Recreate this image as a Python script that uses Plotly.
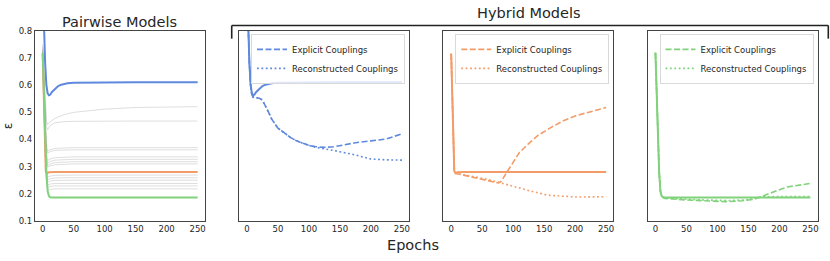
import plotly.graph_objects as go

# ---------------- data ----------------
EPOCH_TICKS = [0, 50, 100, 150, 200, 250]
Y_TICKS = [0.1, 0.2, 0.3, 0.4, 0.5, 0.6, 0.7, 0.8]
Y_TICK_TEXT = ["0.1", "0.2", "0.3", "0.4", "0.5", "0.6", "0.7", "0.8"]

# pairwise models: highlighted curves
BLUE_EPOCHS = [0, 2, 4, 6, 8, 10, 12, 15, 20, 25, 30, 40, 50, 75, 100, 150, 200, 250]
BLUE_PAIR = [0.98, 0.80, 0.68, 0.60, 0.57, 0.563, 0.565, 0.575, 0.588, 0.597, 0.602, 0.607,
             0.609, 0.610, 0.611, 0.611, 0.611, 0.611]

ORANGE_EPOCHS = [0, 1, 2, 3, 4, 5, 7, 10, 20, 250]
ORANGE_PAIR = [0.716, 0.62, 0.50, 0.40, 0.32, 0.283, 0.276, 0.279, 0.280, 0.280]

GREEN_EPOCHS = [0, 2, 4, 6, 8, 10, 12, 15, 250]
GREEN_PAIR = [0.72, 0.55, 0.40, 0.28, 0.21, 0.192, 0.187, 0.186, 0.186]

# pairwise models: other (grey) curves
GREY_EPOCHS = [0, 2, 4, 6, 8, 12, 20, 35, 50, 100, 150, 250]
GREY_1 = [0.75, 0.64, 0.54, 0.47, 0.455, 0.465, 0.478, 0.492, 0.500, 0.512, 0.518, 0.521]
GREY_2 = [0.74, 0.62, 0.52, 0.45, 0.436, 0.452, 0.462, 0.466, 0.467, 0.468, 0.468, 0.468]
GREY_3 = [0.74, 0.60, 0.47, 0.38, 0.357, 0.362, 0.367, 0.369, 0.370, 0.370, 0.370, 0.370]
GREY_4 = [0.73, 0.59, 0.46, 0.37, 0.350, 0.355, 0.360, 0.362, 0.362, 0.362, 0.362, 0.362]
GREY_5 = [0.73, 0.58, 0.44, 0.35, 0.322, 0.328, 0.333, 0.335, 0.336, 0.336, 0.336, 0.336]
GREY_6 = [0.72, 0.57, 0.43, 0.34, 0.312, 0.319, 0.324, 0.326, 0.327, 0.327, 0.327, 0.327]
GREY_7 = [0.72, 0.56, 0.42, 0.33, 0.303, 0.310, 0.315, 0.317, 0.318, 0.318, 0.318, 0.318]
GREY_8 = [0.72, 0.56, 0.41, 0.32, 0.298, 0.303, 0.307, 0.309, 0.310, 0.310, 0.310, 0.310]
GREY_9 = [0.71, 0.54, 0.39, 0.29, 0.262, 0.265, 0.268, 0.269, 0.269, 0.269, 0.269, 0.269]
GREY_10 = [0.71, 0.53, 0.38, 0.28, 0.252, 0.256, 0.258, 0.259, 0.259, 0.259, 0.259, 0.259]
GREY_11 = [0.71, 0.53, 0.37, 0.27, 0.243, 0.247, 0.249, 0.250, 0.250, 0.250, 0.250, 0.250]
GREY_12 = [0.70, 0.52, 0.36, 0.26, 0.232, 0.236, 0.238, 0.238, 0.238, 0.238, 0.238, 0.238]
GREY_13 = [0.70, 0.51, 0.35, 0.25, 0.223, 0.227, 0.229, 0.229, 0.229, 0.229, 0.229, 0.229]
GREY_14 = [0.70, 0.50, 0.34, 0.24, 0.213, 0.216, 0.218, 0.218, 0.218, 0.218, 0.218, 0.218]
GREY_CURVES = [GREY_1, GREY_2, GREY_3, GREY_4, GREY_5, GREY_6, GREY_7,
               GREY_8, GREY_9, GREY_10, GREY_11, GREY_12, GREY_13, GREY_14]

# hybrid models, blue
BLUE_EXPL_EPOCHS = [0, 2, 4, 6, 8, 10, 15, 20, 25, 30, 35, 40, 50, 60, 70, 80, 90, 100,
                    110, 125, 140, 150, 175, 200, 225, 250]
BLUE_EXPL = [0.98, 0.80, 0.68, 0.60, 0.565, 0.556, 0.553, 0.552, 0.545, 0.525, 0.500, 0.475,
             0.442, 0.425, 0.408, 0.395, 0.385, 0.378, 0.374, 0.371, 0.373, 0.377, 0.388,
             0.395, 0.402, 0.421]
BLUE_RECO_EPOCHS = [0, 2, 4, 6, 8, 10, 15, 20, 25, 30, 35, 40, 50, 60, 70, 80, 90, 100,
                    110, 125, 150, 175, 200, 225, 250]
BLUE_RECO = [0.98, 0.80, 0.68, 0.60, 0.565, 0.556, 0.553, 0.552, 0.545, 0.525, 0.500, 0.475,
             0.442, 0.425, 0.408, 0.395, 0.385, 0.378, 0.372, 0.366, 0.355, 0.343, 0.328,
             0.325, 0.324]

# hybrid models, orange
ORANGE_EXPL_EPOCHS = [0, 1, 2, 3, 4, 5, 8, 15, 25, 40, 55, 70, 76, 80, 85, 90, 100, 110,
                      125, 140, 160, 180, 200, 225, 250]
ORANGE_EXPL = [0.716, 0.62, 0.50, 0.40, 0.32, 0.283, 0.275, 0.272, 0.266, 0.258, 0.250,
               0.242, 0.240, 0.244, 0.262, 0.285, 0.320, 0.352, 0.385, 0.415, 0.443, 0.468,
               0.487, 0.503, 0.518]
ORANGE_RECO_EPOCHS = [0, 1, 2, 3, 4, 5, 8, 15, 25, 40, 55, 75, 95, 125, 155, 180, 200, 250]
ORANGE_RECO = [0.716, 0.62, 0.50, 0.40, 0.32, 0.283, 0.275, 0.272, 0.268, 0.262, 0.255,
               0.243, 0.230, 0.212, 0.195, 0.190, 0.188, 0.189]

# hybrid models, green
GREEN_EXPL_EPOCHS = [0, 2, 4, 6, 8, 10, 15, 30, 50, 80, 113, 140, 160, 170, 185, 200,
                     215, 230, 250]
GREEN_EXPL = [0.72, 0.55, 0.40, 0.28, 0.21, 0.192, 0.183, 0.180, 0.177, 0.174, 0.171,
              0.174, 0.180, 0.189, 0.203, 0.215, 0.226, 0.230, 0.238]
GREEN_RECO_EPOCHS = [0, 2, 4, 6, 8, 10, 15, 50, 80, 120, 150, 170, 200, 250]
GREEN_RECO = [0.72, 0.55, 0.40, 0.28, 0.21, 0.192, 0.184, 0.180, 0.177, 0.175, 0.178,
              0.188, 0.190, 0.190]

LEGEND_NAMES = ["Explicit Couplings", "Reconstructed Couplings"]

# ---------------- styling ----------------
W, H = 830, 261
FONT = "DejaVu Sans"
TXT = "#262626"
BLUE = "#5f89de"
ORANGE = "#f29c68"
GREEN = "#80d27b"
GREY = "rgba(160,160,160,0.35)"
DASH = "6px,2.5px"
DOT = "1.8px,2.6px"


def fx(p):
    return p / W


def fy(p):
    return 1 - p / H


PANELS = [(35, 205), (239.5, 409.5), (444, 614), (648.5, 818.5)]
Y_TOP, Y_BOT = 27, 224.5

fig = go.Figure()

# panel 1: pairwise models
for g in GREY_CURVES:
    fig.add_trace(go.Scatter(x=GREY_EPOCHS, y=g, mode="lines", line=dict(color=GREY, width=1),
                             showlegend=False, xaxis="x", yaxis="y", hoverinfo="skip"))
for ep, vals, col in [(BLUE_EPOCHS, BLUE_PAIR, BLUE), (ORANGE_EPOCHS, ORANGE_PAIR, ORANGE),
                      (GREEN_EPOCHS, GREEN_PAIR, GREEN)]:
    fig.add_trace(go.Scatter(x=ep, y=vals, mode="lines", line=dict(color=col, width=2),
                             showlegend=False, xaxis="x", yaxis="y"))

# hybrid panels
hybrid = [
    (BLUE, BLUE_EPOCHS, BLUE_PAIR, BLUE_EXPL_EPOCHS, BLUE_EXPL, BLUE_RECO_EPOCHS, BLUE_RECO, "2", "legend"),
    (ORANGE, ORANGE_EPOCHS, ORANGE_PAIR, ORANGE_EXPL_EPOCHS, ORANGE_EXPL, ORANGE_RECO_EPOCHS, ORANGE_RECO, "3", "legend2"),
    (GREEN, GREEN_EPOCHS, GREEN_PAIR, GREEN_EXPL_EPOCHS, GREEN_EXPL, GREEN_RECO_EPOCHS, GREEN_RECO, "4", "legend3"),
]
for col, ep, sol, ee, ev, re_, rv, k, leg in hybrid:
    fig.add_trace(go.Scatter(x=ep, y=sol, mode="lines", line=dict(color=col, width=2),
                             showlegend=False, xaxis="x" + k, yaxis="y" + k))
    fig.add_trace(go.Scatter(x=ee, y=ev, mode="lines", name=LEGEND_NAMES[0],
                             line=dict(color=col, width=1.6, dash=DASH),
                             legend=leg, xaxis="x" + k, yaxis="y" + k))
    fig.add_trace(go.Scatter(x=re_, y=rv, mode="lines", name=LEGEND_NAMES[1],
                             line=dict(color=col, width=1.6, dash=DOT),
                             legend=leg, xaxis="x" + k, yaxis="y" + k))

axis_common = dict(showline=True, mirror=True, linecolor="#444444", linewidth=1.2,
                   showgrid=False, zeroline=False, ticks="",
                   tickfont=dict(family=FONT, size=8.5, color=TXT))
layout = dict(width=W, height=H, margin=dict(l=0, r=0, t=0, b=0),
              paper_bgcolor="white", plot_bgcolor="white",
              font=dict(family=FONT, color=TXT))
for i, (l, r) in enumerate(PANELS):
    k = "" if i == 0 else str(i + 1)
    layout["xaxis" + k] = dict(axis_common, domain=[fx(l), fx(r)], range=[-12.45, 261.45],
                               tickvals=EPOCH_TICKS, anchor="y" + k)
    layout["yaxis" + k] = dict(axis_common, domain=[fy(Y_BOT), fy(Y_TOP)], range=[0.1, 0.8],
                               tickvals=Y_TICKS, ticktext=Y_TICK_TEXT, anchor="x" + k,
                               showticklabels=(i == 0))

leg_common = dict(xanchor="right", yanchor="top", bgcolor="rgba(255,255,255,0.8)",
                  bordercolor="#d9d9d9", borderwidth=1,
                  font=dict(family=FONT, size=8.5, color=TXT), tracegroupgap=0)
for i, name in enumerate(["legend", "legend2", "legend3"]):
    r = PANELS[i + 1][1]
    layout[name] = dict(leg_common, x=fx(r - 4), y=fy(30))

fig.update_layout(**layout)

# titles and labels
ann = dict(xref="paper", yref="paper", showarrow=False, xanchor="center", yanchor="middle")
fig.add_annotation(ann, x=fx(120), y=fy(17.5), text="Pairwise Models",
                   font=dict(family=FONT, size=14.5, color=TXT))
fig.add_annotation(ann, x=fx(530), y=fy(8.5), text="Hybrid Models",
                   font=dict(family=FONT, size=14.5, color=TXT))
fig.add_annotation(ann, x=fx(413), y=fy(250), text="Epochs",
                   font=dict(family=FONT, size=14.5, color=TXT))
fig.add_annotation(ann, x=fx(8), y=fy(125), text="ε", textangle=-90,
                   font=dict(family=FONT, size=12, color=TXT))

# bracket over the hybrid panels
for x0, y0, x1, y1 in [(232, 21.3, 829.3, 21.3), (232, 21.3, 232, 35), (829.3, 21.3, 829.3, 35)]:
    fig.add_shape(type="line", xref="paper", yref="paper", x0=fx(x0), y0=fy(y0), x1=fx(x1),
                  y1=fy(y1), line=dict(color="#222222", width=1.6))

fig.write_html("out.html", config={"displayModeBar": False},
               post_script="document.body.style.margin='0';document.body.style.overflow='hidden';")
